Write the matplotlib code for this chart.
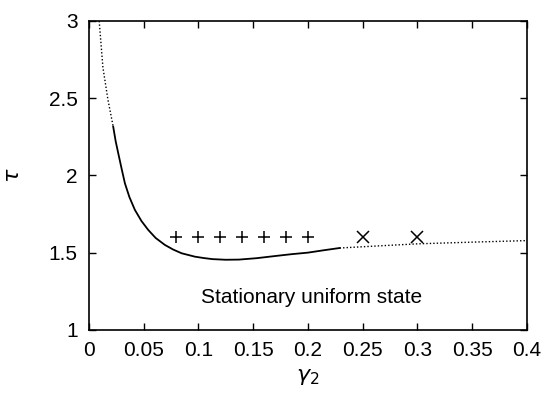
import matplotlib
matplotlib.use('Agg')
import matplotlib.pyplot as plt

plt.rcParams['font.family'] = ['Liberation Sans', 'DejaVu Sans']

# linea de estabilidad (tramo punteado a la izquierda)
gam_dot_left = [0.0094, 0.0128, 0.0174, 0.0222]
tau_dot_left = [3.0, 2.70, 2.49, 2.316]

# tramo solido
gam_solid = [0.0222, 0.0245, 0.0268, 0.030, 0.0329, 0.037, 0.042, 0.048, 0.0542, 0.061,
             0.0694, 0.077, 0.0847, 0.0968, 0.105, 0.113, 0.125, 0.137, 0.153, 0.17,
             0.185, 0.20, 0.215, 0.229]
tau_solid = [2.316, 2.22, 2.144, 2.04, 1.949, 1.86, 1.777, 1.705, 1.647, 1.595,
             1.55, 1.52, 1.496, 1.474, 1.465, 1.458, 1.454, 1.455, 1.464, 1.478,
             1.49, 1.50, 1.516, 1.53]

# tramo punteado a la derecha
gam_dot_right = [0.229, 0.26, 0.30, 0.35, 0.40]
tau_dot_right = [1.53, 1.542, 1.557, 1.568, 1.578]

# puntos de simulacion
gam_plus = [0.08, 0.10, 0.12, 0.14, 0.16, 0.18, 0.20]
tau_plus = [1.6, 1.6, 1.6, 1.6, 1.6, 1.6, 1.6]
gam_cross = [0.25, 0.30]
tau_cross = [1.6, 1.6]

fig = plt.figure(figsize=(5.42, 3.96), dpi=100)
ax = fig.add_axes([0.164, 0.167, 0.808, 0.78])

ax.plot(gam_dot_left, tau_dot_left, color='black', linestyle=(0, (1, 1.5)), linewidth=1.0)
ax.plot(gam_solid, tau_solid, color='black', linewidth=1.3)
ax.plot(gam_dot_right, tau_dot_right, color='black', linestyle=(0, (1, 1.5)), linewidth=1.0)
ax.plot(gam_plus, tau_plus, linestyle='none', marker='+', color='black', markersize=9, markeredgewidth=1.1)
ax.plot(gam_cross, tau_cross, linestyle='none', marker='x', color='black', markersize=8, markeredgewidth=1.1)

ax.text(0.203, 1.21, 'Stationary uniform state', ha='center', va='center', fontsize=15)

ax.set_xlim(0, 0.4)
ax.set_ylim(1, 3)
ax.set_xticks([0, 0.05, 0.1, 0.15, 0.2, 0.25, 0.3, 0.35, 0.4])
ax.set_xticklabels(['0', '0.05', '0.1', '0.15', '0.2', '0.25', '0.3', '0.35', '0.4'])
ax.set_yticks([1, 1.5, 2, 2.5, 3])
ax.set_yticklabels(['1', '1.5', '2', '2.5', '3'])
ax.tick_params(direction='in', top=True, right=True, labelsize=15, length=5, width=1, pad=8)
for s in ax.spines.values():
    s.set_linewidth(1.2)

ax.set_xlabel(r'$\gamma_2$', fontsize=16)
ax.set_ylabel(r'$\tau$', fontsize=16, labelpad=18)

fig.savefig('out.png', dpi=100)
